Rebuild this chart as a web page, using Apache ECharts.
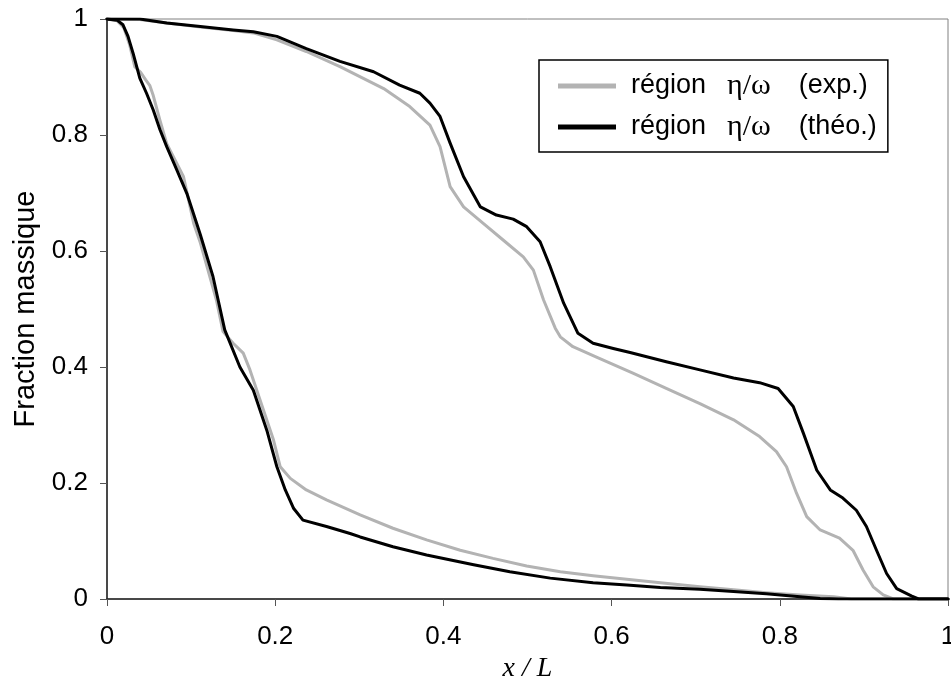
<!DOCTYPE html>
<html>
<head>
<meta charset="utf-8">
<script src="https://cdn.jsdelivr.net/npm/echarts@6/dist/echarts.min.js"></script>
<style>html,body{margin:0;padding:0;background:#fff;}#chart{width:951px;height:683px;}</style>
</head>
<body>
<div id="chart"></div>
<script>
// Legend labels
const seriesNames = ['région η/ω (exp.)', 'région η/ω (théo.)'];
const xAxisTitle = 'x / L';
const yAxisTitle = 'Fraction massique';

// Experimental (grey) lower boundary
const expLowerX = [0, 0.012, 0.02, 0.027, 0.033, 0.04, 0.046, 0.051, 0.055, 0.063, 0.071, 0.078, 0.083, 0.091, 0.103, 0.111, 0.130, 0.138, 0.150, 0.162, 0.170, 0.182, 0.198, 0.206, 0.218, 0.237, 0.261, 0.301, 0.340, 0.380, 0.420, 0.459, 0.499, 0.539, 0.578, 0.618, 0.658, 0.705, 0.745, 0.784, 0.824, 0.864, 0.885, 1.0];
const expLowerY = [1, 0.997, 0.985, 0.955, 0.918, 0.908, 0.895, 0.885, 0.868, 0.825, 0.785, 0.765, 0.751, 0.728, 0.648, 0.614, 0.516, 0.461, 0.441, 0.424, 0.395, 0.343, 0.274, 0.228, 0.208, 0.188, 0.171, 0.145, 0.122, 0.102, 0.084, 0.070, 0.057, 0.047, 0.040, 0.034, 0.028, 0.021, 0.016, 0.011, 0.007, 0.004, 0, 0];

// Experimental (grey) upper boundary
const expUpperX = [0, 0.039, 0.071, 0.111, 0.150, 0.174, 0.202, 0.237, 0.277, 0.329, 0.360, 0.384, 0.396, 0.408, 0.424, 0.447, 0.471, 0.495, 0.507, 0.519, 0.533, 0.539, 0.554, 0.582, 0.626, 0.665, 0.705, 0.745, 0.776, 0.796, 0.808, 0.820, 0.832, 0.848, 0.871, 0.887, 0.899, 0.911, 0.923, 0.935, 1.0];
const expUpperY = [1, 0.999, 0.993, 0.986, 0.980, 0.976, 0.964, 0.944, 0.918, 0.880, 0.849, 0.817, 0.780, 0.711, 0.676, 0.648, 0.619, 0.590, 0.567, 0.516, 0.467, 0.452, 0.435, 0.417, 0.389, 0.363, 0.337, 0.309, 0.280, 0.254, 0.228, 0.182, 0.142, 0.119, 0.105, 0.084, 0.050, 0.021, 0.007, 0, 0];

// Theoretical (black) lower boundary
const theoLowerX = [0, 0.012, 0.019, 0.025, 0.031, 0.039, 0.047, 0.055, 0.063, 0.071, 0.083, 0.095, 0.111, 0.126, 0.140, 0.158, 0.174, 0.190, 0.202, 0.212, 0.222, 0.233, 0.261, 0.289, 0.301, 0.340, 0.380, 0.436, 0.479, 0.527, 0.578, 0.618, 0.658, 0.705, 0.745, 0.784, 0.824, 0.848, 0.87, 1.0];
const theoLowerY = [1, 0.998, 0.99, 0.97, 0.941, 0.898, 0.872, 0.843, 0.809, 0.780, 0.740, 0.699, 0.628, 0.556, 0.464, 0.400, 0.360, 0.291, 0.228, 0.188, 0.156, 0.136, 0.125, 0.113, 0.107, 0.090, 0.076, 0.059, 0.047, 0.036, 0.028, 0.024, 0.020, 0.017, 0.013, 0.009, 0.004, 0.001, 0, 0];

// Theoretical (black) upper boundary
const theoUpperX = [0, 0.039, 0.071, 0.111, 0.150, 0.174, 0.202, 0.237, 0.277, 0.317, 0.348, 0.372, 0.384, 0.396, 0.408, 0.424, 0.444, 0.463, 0.483, 0.499, 0.515, 0.527, 0.543, 0.560, 0.578, 0.602, 0.622, 0.665, 0.705, 0.745, 0.776, 0.798, 0.816, 0.828, 0.844, 0.860, 0.875, 0.891, 0.903, 0.915, 0.927, 0.939, 0.957, 0.965, 1.0];
const theoUpperY = [1, 1.0, 0.993, 0.987, 0.981, 0.978, 0.970, 0.949, 0.927, 0.909, 0.886, 0.872, 0.855, 0.832, 0.786, 0.728, 0.676, 0.662, 0.655, 0.642, 0.616, 0.573, 0.510, 0.458, 0.441, 0.432, 0.425, 0.409, 0.395, 0.381, 0.373, 0.363, 0.332, 0.286, 0.222, 0.188, 0.174, 0.153, 0.125, 0.084, 0.044, 0.018, 0.005, 0, 0];

function zip(xs, ys) { return xs.map((x, i) => [x, ys[i]]); }

const GREY = '#b3b3b3';
const BLACK = '#000000';
const SANS = '"Liberation Sans", Arial, sans-serif';
const SERIF = '"Liberation Serif", "Times New Roman", serif';

function mkSeries(name, color, xs, ys) {
  return {
    name: name, type: 'line', data: zip(xs, ys),
    symbol: 'none', smooth: false, silent: true, animation: false,
    lineStyle: { color: color, width: 3, join: 'round', cap: 'round' }, itemStyle: { color: color }
  };
}

const chart = echarts.init(document.getElementById('chart'), null, { renderer: 'canvas' });
chart.setOption({
  backgroundColor: '#ffffff',
  animation: false,
  grid: { left: 107, right: 3, top: 19, bottom: 84, show: true, borderColor: '#808080', borderWidth: 1, backgroundColor: 'transparent', containLabel: false, outerBoundsMode: 'none' },
  legend: {
    data: seriesNames,
    orient: 'vertical', left: 539, top: 60,
    padding: [11, 11, 10, 19], itemGap: 11, itemWidth: 58, itemHeight: 5,
    icon: 'rect',
    borderColor: '#000', borderWidth: 1.5, backgroundColor: '#fff',
    selectedMode: false,
    formatter: function (name) {
      const m = name.match(/^(\S+) (\S+) (.+)$/);
      return '{r|' + m[1] + '}{g|' + m[2] + '}{t|' + m[3] + '}';
    },
    textStyle: {
      fontFamily: SANS, fontSize: 27, color: '#000',
      rich: {
        r: { fontFamily: SANS, fontSize: 27, color: '#000', padding: [0, 0, 0, 10] },
        t: { fontFamily: SANS, fontSize: 27, color: '#000' },
        g: { fontFamily: SERIF, fontSize: 30, color: '#000', padding: [0, 28, 0, 21] }
      }
    }
  },
  xAxis: {
    type: 'value', min: 0, max: 1, interval: 0.2,
    name: xAxisTitle, nameLocation: 'middle', nameGap: 55,
    nameTextStyle: { fontFamily: SERIF, fontStyle: 'italic', fontSize: 28, color: '#000' },
    axisLine: { show: true, onZero: false, lineStyle: { color: '#222', width: 1.5 } },
    axisTick: { show: true, inside: false, length: 7, lineStyle: { color: '#555', width: 1 } },
    axisLabel: { margin: 25, fontFamily: SANS, fontSize: 26, color: '#000' },
    splitLine: { show: false }
  },
  yAxis: {
    type: 'value', min: 0, max: 1, interval: 0.2,
    name: yAxisTitle, nameLocation: 'middle', nameGap: 66,
    nameTextStyle: { fontFamily: SANS, fontSize: 29, color: '#000' },
    axisLine: { show: true, onZero: false, lineStyle: { color: '#222', width: 1.5 } },
    axisTick: { show: true, inside: false, length: 7, lineStyle: { color: '#555', width: 1 } },
    axisLabel: { margin: 19, fontFamily: SANS, fontSize: 26, color: '#000' },
    splitLine: { show: false }
  },
  series: [
    mkSeries(seriesNames[0], GREY, expLowerX, expLowerY),
    mkSeries(seriesNames[0], GREY, expUpperX, expUpperY),
    mkSeries(seriesNames[1], BLACK, theoLowerX, theoLowerY),
    mkSeries(seriesNames[1], BLACK, theoUpperX, theoUpperY)
  ]
});
</script>
</body>
</html>
